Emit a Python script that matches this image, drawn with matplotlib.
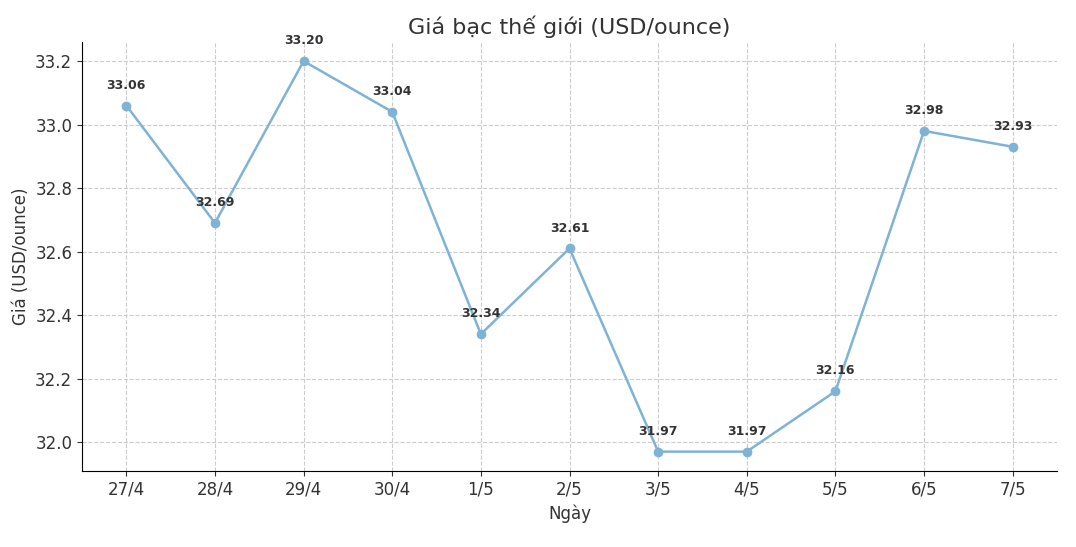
import matplotlib.pyplot as plt

dates = ["27/4", "28/4", "29/4", "30/4", "1/5", "2/5", "3/5", "4/5", "5/5", "6/5", "7/5"]
prices = [33.06, 32.69, 33.20, 33.04, 32.34, 32.61, 31.97, 31.97, 32.16, 32.98, 32.93]

plt.rcParams["font.family"] = ["DejaVu Sans"]
fig = plt.figure(figsize=(10.76, 5.47), dpi=100)
ax = fig.add_axes([82 / 1076, 1 - 471 / 547, (1057 - 82) / 1076, (471 - 42) / 547])

x = list(range(len(dates)))
ax.plot(x, prices, color="#7fb3d5", linewidth=1.8, marker="o", markersize=6)
for xi, p in zip(x, prices):
    ax.annotate(f"{p:.2f}", (xi, p), xytext=(0, 10), textcoords="offset points",
                ha="center", va="bottom", fontsize=9, fontweight="bold", color="#333333")

ax.set_xticks(x)
ax.set_xticklabels(dates)
ax.set_xlim(-0.5, 10.5)
ax.set_ylim(31.909, 33.26)
ax.set_yticks([32.0, 32.2, 32.4, 32.6, 32.8, 33.0, 33.2])
ax.tick_params(labelsize=12, colors="#333333")
ax.grid(True, linestyle="--", color="#cccccc", linewidth=0.8)
ax.set_axisbelow(True)
for s in ["top", "right"]:
    ax.spines[s].set_visible(False)
ax.set_xlabel("Ngày", fontsize=12, color="#333333")
ax.set_ylabel("Giá (USD/ounce)", fontsize=12, color="#333333")
ax.set_title("Giá bạc thế giới (USD/ounce)", fontsize=16, color="#333333")

fig.savefig("out.png", dpi=100)
